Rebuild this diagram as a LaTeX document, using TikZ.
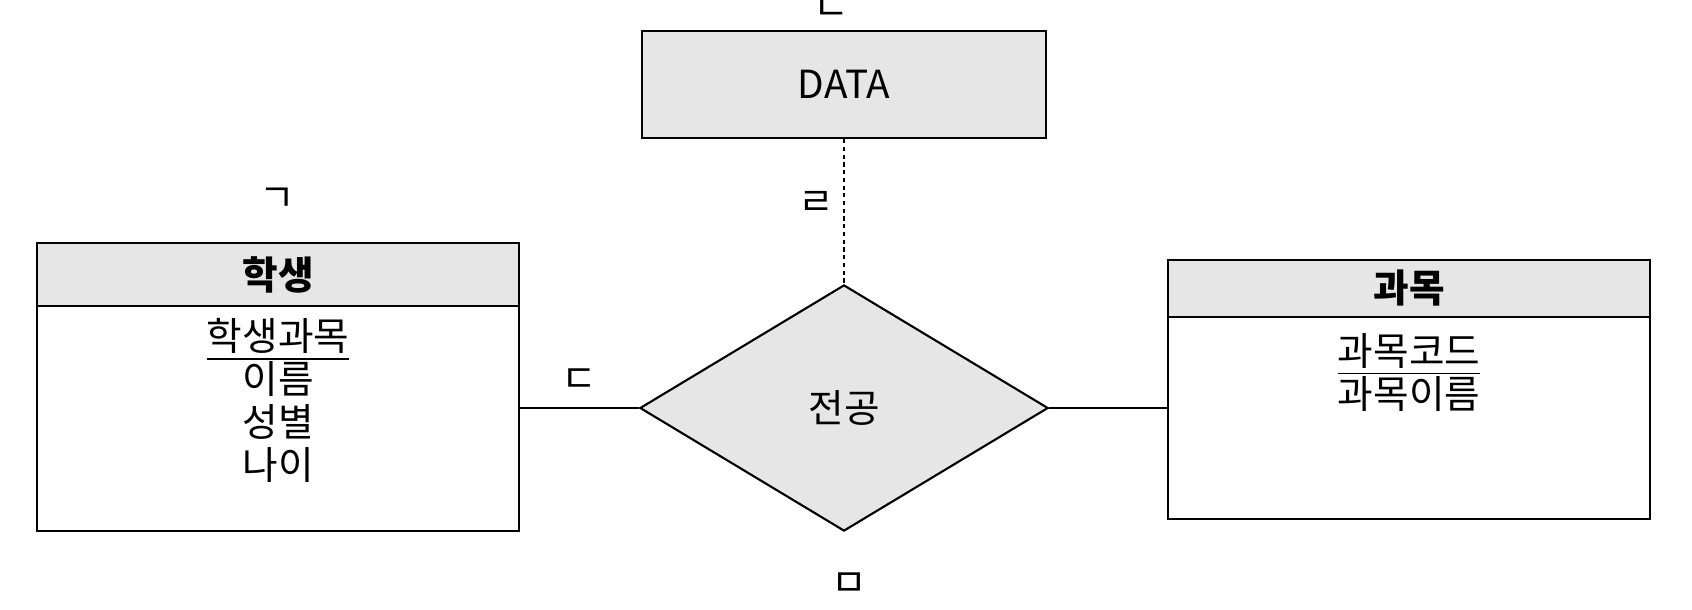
\documentclass[tikz,border=0pt]{standalone}
\usepackage{fontspec}
\setmainfont{Noto Sans CJK KR}
\usetikzlibrary{positioning,shapes.geometric}
\definecolor{shade}{HTML}{E6E6E6}
\definecolor{ink}{HTML}{000000}

\begin{document}
\begin{tikzpicture}[x=0.01cm,y=-0.01cm,
  font=\fontsize{11}{12.2}\selectfont,
  head/.style={draw=ink, fill=shade, line width=0.6pt, inner sep=0pt},
  body/.style={draw=ink, fill=white, line width=0.6pt, inner sep=0pt},
  attrs/.style={inner sep=0pt, align=center},
  jamo/.style={inner sep=0pt},
  link/.style={draw=ink, line width=0.4pt}]
\useasboundingbox (0,0) rectangle (1692,609);
\node[head, minimum width=4.04cm, minimum height=1.07cm] (data) at (844,84.5) {DATA};
\node[diamond, aspect=1.66, draw=ink, fill=shade, line width=0.6pt, inner sep=0pt, minimum width=4.08cm, minimum height=2.46cm] (major) at (844,408) {전공};
\node[body, minimum width=4.82cm, minimum height=2.25cm] (stuBody) at (278,418.5) {};
\node[head, minimum width=4.82cm, minimum height=0.63cm] (stuHead) at (278,274.5) {\bfseries 학생};
\node[attrs, below=0.11cm of stuHead] (stuAttr) {\underline{학생과목}\\이름\\성별\\나이};
\node[body, minimum width=4.82cm, minimum height=2.02cm] (subjBody) at (1409,418) {};
\node[head, minimum width=4.82cm, minimum height=0.57cm] (subjHead) at (1409,288.5) {\bfseries 과목};
\node[attrs, below=0.15cm of subjHead] (subjAttr) {\underline{과목코드}\\과목이름};
\draw[link, dash pattern=on 1.2pt off 1pt] (data) -- (major);
\draw[link] (major.west) -- (major.west -| stuBody.east);
\draw[link] (major.east) -- (major.east -| subjBody.west);
\node[jamo] (labA) at (277,200) {ㄱ};
\node[jamo] (labB) at (831,9) {ㄴ};
\node[jamo] (labC) at (579,381) {ㄷ};
\node[jamo] (labD) at (816,203) {ㄹ};
\node[jamo] (labE) at (849,585) {ㅁ};
\end{tikzpicture}
\end{document}
